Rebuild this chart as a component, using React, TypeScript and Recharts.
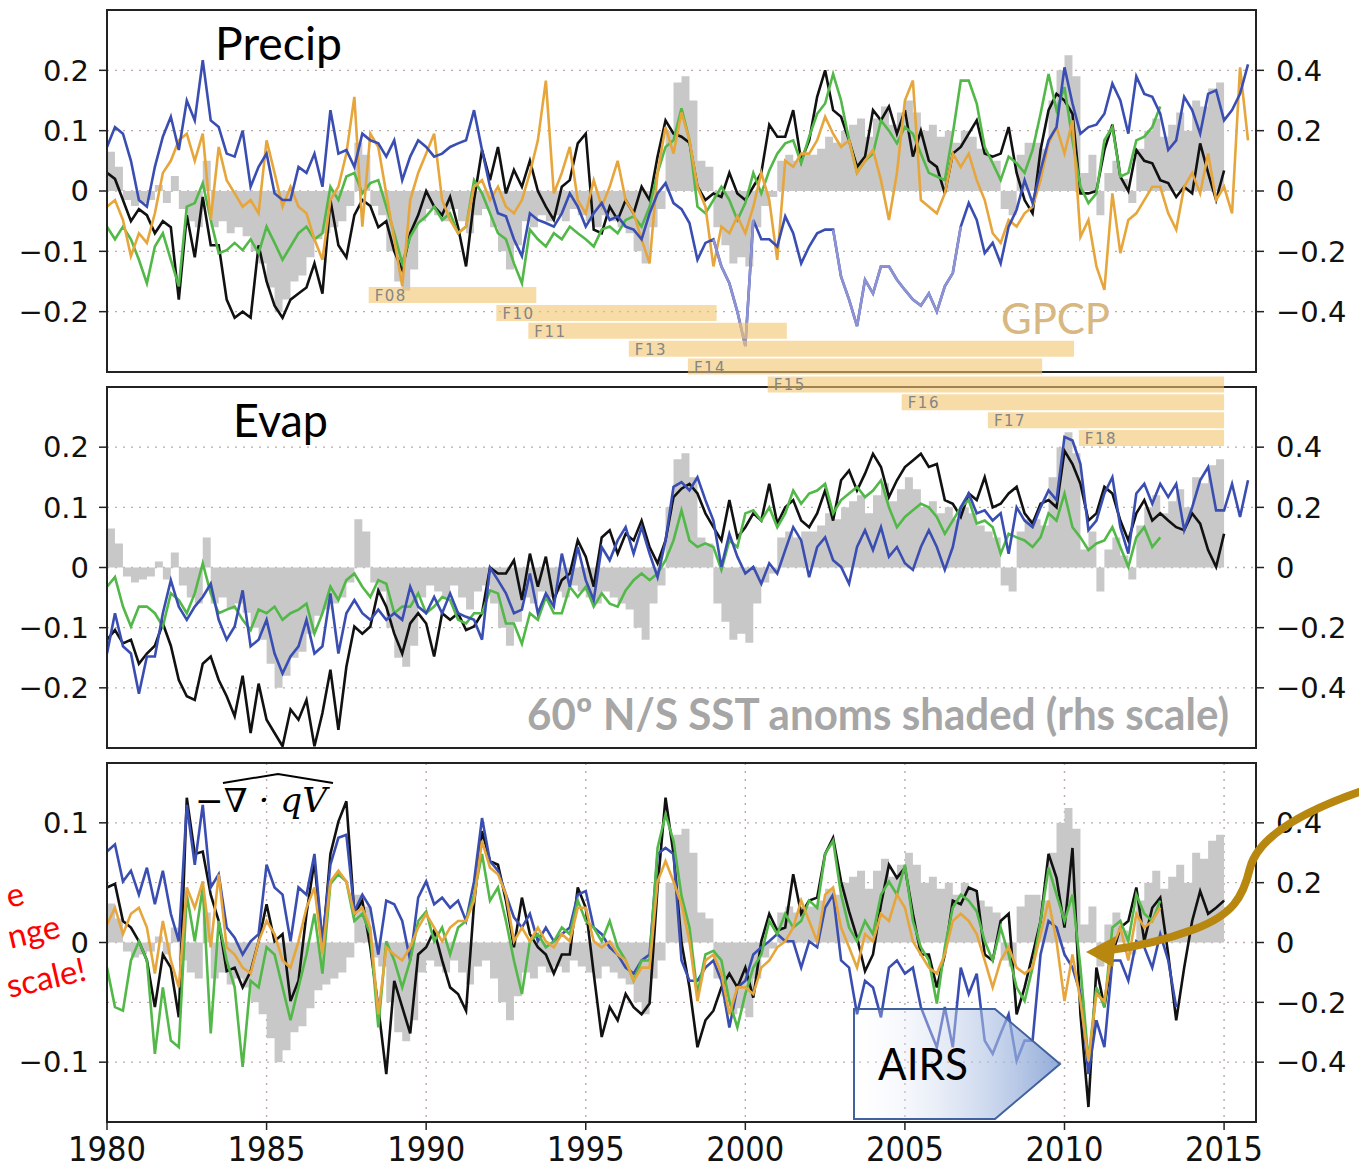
import React from 'react';
import {
  ComposedChart, Line, Area, XAxis, YAxis, CartesianGrid,
  BarChart, Bar, LabelList,
} from 'recharts';

// ---------------- time axis / ticks ----------------
const YEAR_START = 1980;
const QUARTERS = 144; // quarterly samples 1980.00 .. 2015.75
const X_TICKS = [1980, 1985, 1990, 1995, 2000, 2005, 2010, 2015];
const LEFT_TICKS_PE = [-0.2, -0.1, 0, 0.1, 0.2];
const LEFT_TICKS_DIV = [-0.1, 0, 0.1];
const RIGHT_TICKS = [-0.4, -0.2, 0, 0.2, 0.4];

// ---------------- Precip panel (left scale) ----------------
const PRECIP_BLACK = [
  0.03, 0.02, -0.015, -0.05, -0.03, -0.04, -0.07, -0.05, -0.06, -0.18, -0.04, -0.11,
  -0.01, -0.09, -0.09, -0.18, -0.21, -0.2, -0.21, -0.09, -0.15, -0.19, -0.21, -0.18,
  -0.17, -0.16, -0.12, -0.17, -0.015, -0.09, -0.11, -0.04, -0.015, -0.025, -0.06, -0.05,
  -0.1, -0.13, -0.07, -0.04, 0.0, -0.026, -0.04, -0.01, -0.06, -0.125, -0.015, 0.068,
  0.018, 0.073, -0.004, 0.035, 0.007, 0.05, 0.0, -0.026, -0.048, 0.007, 0.018, 0.079,
  0.095, -0.064, -0.07, -0.026, -0.048, -0.015, -0.037, 0.007, -0.015, 0.057, 0.117, 0.095,
  0.09, 0.08, 0.007, -0.015, -0.004, -0.01, 0.03, -0.004, -0.015, 0.007, 0.03, 0.11,
  0.09, 0.09, 0.134, 0.05, 0.084, 0.156, 0.2, 0.134, 0.123, 0.084, 0.04, 0.057,
  0.134, 0.117, 0.14, 0.095, 0.134, 0.057, 0.1, 0.05, 0.04, -0.004, 0.062, 0.073,
  0.095, 0.117, 0.062, 0.057, 0.062, 0.106, 0.03, -0.015, -0.037, 0.068, 0.134, 0.161,
  0.15, 0.128, -0.004, -0.004, 0.0, 0.068, 0.11, 0.024, 0.0, 0.068, 0.05, 0.046,
  0.018, 0.013, -0.01, 0.007, -0.004, 0.079, 0.03, -0.015, 0.034,
];
const PRECIP_BLUE = [
  0.073, 0.106, 0.095, 0.05, -0.015, -0.026, 0.04, 0.09, 0.123, 0.068, 0.15, 0.117,
  0.217, 0.117, 0.106, 0.062, 0.057, 0.1, 0.007, 0.04, 0.062, -0.004, -0.015, -0.015,
  0.04, 0.03, 0.062, 0.007, 0.134, 0.062, 0.068, 0.04, 0.095, 0.084, 0.079, 0.057,
  0.084, 0.018, 0.057, 0.084, 0.073, 0.057, 0.062, 0.073, 0.079, 0.084, 0.134, 0.068,
  0.007, -0.037, -0.042, -0.08, -0.108, -0.037, -0.048, -0.053, -0.059, -0.037, -0.004, -0.026,
  -0.059, -0.037, -0.02, -0.048, -0.042, -0.059, -0.064, -0.08, -0.037, -0.004, 0.013, -0.02,
  -0.03, -0.053, -0.114, -0.086, -0.08, -0.125, -0.153, -0.2, -0.257, -0.048, -0.08, -0.08,
  -0.092, -0.042, -0.07, -0.12, -0.092, -0.07, -0.064, -0.064, -0.142, -0.18, -0.224, -0.147,
  -0.17, -0.125, -0.125, -0.147, -0.164, -0.18, -0.19, -0.17, -0.2, -0.158, -0.136, -0.059,
  -0.02, -0.048, -0.103, -0.086, -0.12, -0.059, -0.031, 0.018, -0.02, 0.034, 0.084, 0.106,
  0.205, 0.145, 0.095, 0.106, 0.11, 0.128, 0.178, 0.15, 0.095, 0.19, 0.161, 0.156,
  0.128, 0.068, 0.084, 0.156, 0.134, 0.095, 0.161, 0.167, 0.117, 0.134, 0.161, 0.21,
];
// periods drawn in the paler blue
const PRECIP_BLUE_PALE_RANGES = [[1999.0, 2000.25], [2002.75, 2006.75]];
const PRECIP_GREEN = [
  -0.059, -0.08, -0.059, -0.08, -0.114, -0.153, -0.092, -0.07, -0.114, -0.158, -0.026, -0.02,
  0.013, -0.048, -0.103, -0.098, -0.086, -0.098, -0.08, -0.103, -0.059, -0.086, -0.114, -0.092,
  -0.07, -0.059, -0.08, -0.07, 0.007, -0.015, 0.024, 0.03, -0.004, 0.013, 0.018, -0.026,
  -0.07, -0.12, -0.076, -0.053, -0.042, -0.026, -0.048, -0.037, -0.07, -0.059, 0.018, -0.004,
  -0.037, -0.07, -0.08, -0.12, -0.153, -0.064, -0.08, -0.092, -0.07, -0.08, -0.059, -0.07,
  -0.08, -0.092, -0.064, -0.059, -0.07, -0.048, -0.042, -0.059, -0.026, 0.03, 0.073, 0.084,
  0.137, 0.084, -0.026, -0.037, -0.015, 0.007, -0.015, -0.048, -0.02, 0.03, -0.004, 0.034,
  0.062, 0.079, 0.084, 0.046, 0.09, 0.128, 0.145, 0.194, 0.15, 0.084, 0.03, 0.05,
  0.062, 0.117, 0.1, 0.079, 0.106, 0.095, 0.062, 0.03, 0.024, 0.018, 0.095, 0.183,
  0.183, 0.145, 0.073, 0.046, 0.018, 0.057, 0.046, 0.03, 0.068, 0.128, 0.194, 0.134,
  0.172, 0.084, 0.007, -0.02, -0.004, 0.084, 0.106, 0.024, 0.03, 0.084, 0.09, 0.106,
  0.14,
];
const PRECIP_GPCP = [
  -0.026, -0.015, -0.048, -0.108, -0.07, -0.086, -0.037, 0.03, 0.05, 0.084, 0.095, 0.05,
  0.095, -0.048, 0.073, 0.018, -0.004, -0.026, -0.015, -0.037, 0.084, 0.03, -0.026, 0.007,
  -0.026, -0.037, -0.08, -0.114, -0.015, 0.007, 0.062, 0.156, -0.059, 0.095, 0.073, -0.004,
  -0.08, -0.158, -0.015, 0.03, 0.062, 0.095, -0.015, -0.048, -0.07, -0.059, 0.007, 0.018,
  -0.015, 0.007, -0.026, -0.037, -0.015, 0.03, 0.084, 0.183, -0.004, 0.03, 0.073, -0.015,
  -0.037, 0.018, -0.026, 0.007, 0.05, -0.015, -0.037, -0.08, -0.12, 0.03, 0.106, 0.062,
  0.13, 0.084, 0.007, -0.026, -0.125, -0.059, -0.07, -0.042, -0.07, -0.026, 0.03, -0.015,
  -0.114, 0.05, 0.04, 0.062, 0.062, 0.084, 0.123, 0.095, 0.073, 0.084, 0.03, 0.05,
  0.068, 0.018, -0.048, 0.03, 0.15, 0.183, -0.015, -0.026, -0.037, -0.004, 0.062, 0.04,
  0.062, 0.018, -0.015, -0.07, -0.086, -0.048, -0.059, -0.037, -0.026, 0.018, 0.079, 0.106,
  0.062, 0.117, -0.076, -0.048, -0.125, -0.164, -0.004, -0.103, -0.048, -0.037, -0.015, 0.007,
  0.007, -0.037, -0.064, 0.007, 0.03, -0.004, 0.062, -0.015, 0.007, -0.037, 0.205, 0.084,
];

// ---------------- Evap panel (left scale) ----------------
const EVAP_BLACK = [
  -0.12, -0.104, -0.126, -0.12, -0.16, -0.143, -0.13, -0.093, -0.13, -0.187, -0.214, -0.22,
  -0.16, -0.148, -0.187, -0.214, -0.247, -0.18, -0.275, -0.193, -0.253, -0.275, -0.297, -0.236,
  -0.253, -0.22, -0.297, -0.242, -0.17, -0.27, -0.165, -0.098, -0.11, -0.098, -0.038, -0.065,
  -0.11, -0.143, -0.093, -0.076, -0.093, -0.148, -0.076, -0.087, -0.076, -0.104, -0.098, -0.076,
  0.0, -0.01, -0.01, 0.012, -0.054, 0.023, -0.032, 0.018, -0.054, -0.021, -0.01, 0.045,
  0.018, -0.032, 0.05, 0.062, 0.023, 0.056, 0.045, 0.078, 0.034, 0.007, 0.045, 0.117,
  0.131, 0.139, 0.123, 0.09, 0.067, 0.045, 0.112, 0.05, 0.067, 0.09, 0.078, 0.139,
  0.073, 0.1, 0.112, 0.078, 0.067, 0.09, 0.128, 0.078, 0.145, 0.161, 0.128, 0.156,
  0.189, 0.167, 0.117, 0.145, 0.167, 0.178, 0.189, 0.167, 0.172, 0.112, 0.106, 0.084,
  0.123, 0.112, 0.15, 0.1, 0.106, 0.123, 0.134, 0.09, 0.073, 0.106, 0.112, 0.1,
  0.194, 0.172, 0.139, 0.078, 0.09, 0.134, 0.123, 0.078, 0.045, 0.09, 0.112, 0.078,
  0.09, 0.078, 0.067, 0.062, 0.09, 0.073, 0.029, 0.001, 0.056,
];
const EVAP_BLUE = [
  -0.143, -0.076, -0.131, -0.143, -0.21, -0.148, -0.148, -0.076, -0.021, -0.065, -0.087, -0.065,
  -0.049, -0.027, -0.087, -0.12, -0.098, -0.038, -0.131, -0.12, -0.087, -0.143, -0.176, -0.148,
  -0.131, -0.087, -0.143, -0.131, -0.043, -0.143, -0.076, -0.054, -0.076, -0.087, -0.07, -0.087,
  -0.076, -0.087, -0.032, -0.065, -0.076, -0.049, -0.076, -0.043, -0.076, -0.082, -0.087, -0.12,
  0.0, -0.021, -0.043, -0.076, -0.07, -0.01, -0.076, -0.043, -0.065, 0.023, -0.032, 0.034,
  -0.021, -0.054, 0.034, 0.012, 0.045, 0.067, 0.023, 0.067, 0.023, -0.016, 0.045, 0.134,
  0.142, 0.128, 0.15, 0.112, 0.078, 0.001, 0.056, 0.018, -0.01, 0.001, -0.027, 0.007,
  -0.01, 0.029, 0.067, 0.045, -0.016, 0.034, 0.05, 0.012, 0.001, -0.027, 0.034, 0.062,
  0.029, 0.067, 0.018, 0.034, 0.007, -0.004, 0.034, 0.062, 0.034, -0.004, 0.034, 0.1,
  0.123, 0.09, 0.095, 0.078, 0.09, 0.023, 0.1, 0.078, 0.067, 0.1, 0.128, 0.112,
  0.217, 0.211, 0.172, 0.062, 0.078, 0.123, 0.15, 0.067, 0.023, 0.123, 0.139, 0.106,
  0.139, 0.117, 0.139, 0.062, 0.1, 0.145, 0.167, 0.095, 0.095, 0.139, 0.084, 0.145,
];
const EVAP_GREEN = [
  -0.032, -0.016, -0.065, -0.098, -0.065, -0.065, -0.076, -0.098, -0.043, -0.054, -0.076, -0.043,
  0.007, -0.043, -0.076, -0.07, -0.065, -0.087, -0.104, -0.07, -0.076, -0.065, -0.087, -0.076,
  -0.07, -0.06, -0.11, -0.076, -0.032, -0.054, -0.021, -0.01, -0.032, -0.049, -0.021, -0.027,
  -0.076, -0.065, -0.065, -0.043, -0.076, -0.065, -0.049, -0.054, -0.087, -0.093, -0.076, -0.076,
  -0.038, -0.043, -0.093, -0.093, -0.127, -0.076, -0.087, -0.049, -0.076, -0.076, -0.032, -0.049,
  -0.032, -0.065, -0.043, -0.06, -0.065, -0.038, -0.021, -0.01, -0.021, -0.01, 0.012, 0.045,
  0.095, 0.045, 0.034, 0.04, 0.034, -0.004, 0.045, 0.034, 0.09, 0.095, 0.078, 0.1,
  0.067, 0.09, 0.128, 0.106, 0.123, 0.128, 0.139, 0.09, 0.112, 0.123, 0.134, 0.117,
  0.128, 0.145, 0.1, 0.067, 0.084, 0.095, 0.106, 0.1, 0.084, 0.056, 0.078, 0.1,
  0.112, 0.073, 0.078, 0.067, 0.023, 0.056, 0.05, 0.045, 0.034, 0.05, 0.09, 0.078,
  0.123, 0.067, 0.05, 0.029, 0.04, 0.045, 0.067, 0.034, 0.001, 0.05, 0.067, 0.034,
  0.05,
];

// ---------------- moisture convergence panel (left scale) ----------------
const DIV_BLACK = [
  0.046, 0.049, 0.018, 0.0125, 0.001, -0.015, -0.054, -0.01, -0.021, -0.0625, 0.121, 0.074,
  0.076, 0.04, 0.018, -0.024, -0.021, -0.0375, -0.024, 0.001, 0.032, 0.001, 0.007, -0.049,
  -0.032, 0.024, 0.068, -0.004, 0.074, 0.101, 0.118, 0.024, 0.035, -0.004, -0.054, -0.11,
  -0.032, -0.054, -0.076, -0.01, -0.004, 0.01, -0.015, -0.0375, -0.043, -0.057, 0.032, 0.093,
  0.068, 0.065, 0.035, -0.004, 0.0375, 0.007, -0.004, -0.01, -0.026, -0.01, -0.01, 0.046,
  0.029, -0.026, -0.079, -0.054, -0.065, -0.043, -0.054, -0.06, -0.051, 0.046, 0.121, 0.074,
  0.0, -0.0375, -0.0875, -0.065, -0.057, -0.0375, -0.026, -0.0375, -0.021, -0.046, 0.001, 0.024,
  0.01, 0.0125, 0.057, 0.024, 0.035, 0.0375, 0.074, 0.0875, 0.051, 0.026, 0.004, -0.024,
  -0.01, 0.032, 0.065, 0.054, 0.0625, 0.024, -0.01, -0.01, -0.0375, -0.01, 0.035, 0.032,
  0.046, 0.043, -0.01, -0.015, 0.018, 0.024, -0.06, -0.0375, -0.01, 0.018, 0.074, 0.054,
  0.0125, 0.079, -0.06, -0.1375, -0.021, -0.054, -0.01, 0.0125, 0.018, 0.046, 0.001, 0.029,
  0.0375, -0.01, -0.065, -0.021, 0.018, 0.043, 0.024, 0.029, 0.035,
];
const DIV_BLUE = [
  0.076, 0.082, 0.051, 0.06, 0.04, 0.0625, 0.032, 0.06, 0.024, 0.001, 0.115, 0.065,
  0.115, 0.046, 0.057, 0.0125, 0.004, -0.01, 0.001, 0.007, 0.065, 0.046, 0.04, 0.001,
  0.046, 0.04, 0.074, 0.001, 0.065, 0.0875, 0.09, 0.026, 0.04, 0.029, -0.01, 0.035,
  0.032, 0.018, -0.015, 0.0375, 0.051, 0.032, 0.0375, 0.029, 0.035, 0.018, 0.051, 0.104,
  0.068, 0.06, 0.04, 0.021, 0.0125, 0.024, 0.001, 0.0125, 0.001, 0.007, 0.0125, 0.04,
  0.043, 0.0125, 0.007, -0.004, -0.01, -0.021, -0.026, -0.015, -0.01, 0.074, 0.079, 0.074,
  -0.015, -0.032, -0.032, -0.021, -0.015, -0.032, -0.071, -0.0375, -0.032, -0.01, -0.004, 0.001,
  0.007, 0.001, 0.001, -0.021, 0.001, -0.004, 0.029, 0.04, -0.015, -0.021, -0.06, -0.032,
  -0.0375, -0.0625, -0.021, -0.015, -0.026, -0.021, -0.054, -0.071, -0.0875, -0.054, -0.0875, -0.021,
  -0.043, -0.026, -0.082, -0.093, -0.076, -0.06, -0.099, -0.082, -0.082, -0.01, 0.018, 0.0125,
  -0.01, -0.021, -0.043, -0.11, -0.065, -0.0875, -0.015, -0.015, -0.032, 0.001, -0.004, -0.021,
  0.007, -0.015, -0.054,
];
const DIV_GREEN = [
  -0.021, -0.054, -0.057, -0.015, 0.001, -0.015, -0.093, -0.0375, -0.082, -0.0875, 0.04, 0.001,
  0.046, -0.076, 0.018, -0.015, -0.0375, -0.104, -0.032, -0.0375, -0.004, -0.01, -0.0375, -0.065,
  -0.0375, -0.01, 0.024, -0.026, 0.049, 0.057, 0.051, 0.018, 0.024, 0.007, -0.071, 0.001,
  -0.015, -0.0375, -0.015, 0.018, 0.026, 0.001, 0.0125, -0.01, 0.0125, 0.018, 0.04, 0.074,
  0.035, 0.046, 0.018, -0.015, -0.043, 0.001, 0.007, -0.004, 0.001, 0.0125, 0.007, 0.035,
  0.018, 0.0125, 0.001, 0.018, -0.004, -0.015, -0.032, -0.015, -0.015, 0.079, 0.107, 0.085,
  0.039, 0.0125, -0.043, -0.01, -0.007, -0.015, -0.049, -0.071, -0.043, -0.021, -0.01, 0.018,
  0.007, 0.024, 0.0125, 0.018, 0.035, 0.029, 0.074, 0.085, 0.04, 0.0125, 0.001, 0.018,
  0.007, 0.04, 0.051, 0.04, 0.065, 0.018, -0.004, -0.015, -0.051, -0.004, 0.029, 0.04,
  0.035, 0.026, 0.001, -0.015, 0.0125, -0.01, -0.0375, -0.049, -0.021, 0.018, 0.0625, 0.04,
  0.018, 0.04, -0.021, -0.099, -0.0375, -0.054, 0.0125, 0.018, 0.001, 0.04, 0.024, 0.018,
  0.035,
];
const DIV_ORANGE = [
  0.015, 0.029, 0.007, 0.024, 0.029, 0.0125, -0.026, 0.018, -0.015, -0.0375, 0.046, 0.029,
  0.051, -0.004, 0.057, -0.004, -0.01, -0.021, -0.026, 0.001, 0.018, 0.007, -0.015, -0.021,
  0.001, 0.029, 0.046, -0.01, 0.051, 0.06, 0.051, 0.024, 0.029, 0.0125, -0.06, -0.004,
  -0.01, -0.015, -0.004, 0.0125, 0.024, 0.0125, 0.001, 0.0125, 0.018, 0.018, 0.035, 0.085,
  0.0625, 0.057, 0.04, 0.001, 0.0125, 0.001, 0.0125, 0.001, -0.004, 0.007, 0.001, 0.029,
  0.029, 0.001, -0.004, 0.001, -0.01, -0.015, -0.032, -0.021, -0.021, 0.051, 0.068, 0.051,
  0.032, 0.001, -0.049, -0.015, -0.01, -0.026, -0.06, -0.0375, -0.0375, -0.043, -0.021, -0.015,
  -0.004, 0.001, 0.0125, 0.035, 0.018, 0.001, 0.04, 0.046, 0.0125, -0.004, -0.021, 0.007,
  0.001, 0.024, 0.018, 0.04, 0.029, 0.001, -0.01, -0.021, -0.026, -0.01, 0.018, 0.024,
  0.018, 0.007, -0.015, -0.0375, -0.015, -0.004, -0.021, -0.026, -0.021, 0.007, 0.035, 0.001,
  -0.049, -0.01, -0.049, -0.099, -0.043, -0.049, -0.004, 0.0125, -0.015, 0.024, 0.0125, 0.018,
  0.029,
];

// ---------------- 60N/S SST anomalies (right-hand scale, shaded) ----------------
const SST_ANOM = [
  0.13, 0.08, -0.03, -0.05, -0.04, -0.03, 0.02, -0.04, 0.05, -0.06, -0.1, -0.12,
  0.1, -0.12, -0.1, -0.14, -0.12, -0.15, -0.2, -0.24, -0.32, -0.4, -0.36, -0.3,
  -0.28, -0.22, -0.16, -0.14, -0.12, -0.1, -0.05, 0.16, 0.12, -0.05, -0.08, -0.2,
  -0.3, -0.33, -0.26, -0.1, -0.06, -0.08, -0.1, -0.06, -0.1, -0.14, -0.08, -0.06,
  -0.12, -0.2, -0.26, -0.18, -0.1, -0.12, -0.08, -0.1, -0.08, -0.1, -0.06, -0.08,
  -0.1, -0.12, -0.08, -0.1, -0.12, -0.14, -0.2, -0.24, -0.12, -0.06, 0.2, 0.36,
  0.38, 0.3, 0.1, 0.08, -0.12, -0.18, -0.24, -0.22, -0.25, -0.12, -0.05, -0.02,
  0.1, 0.12, 0.1, 0.12, 0.12, 0.14, 0.18, 0.16, 0.2, 0.22, 0.24, 0.18,
  0.24, 0.28, 0.22, 0.26, 0.3, 0.26, 0.2, 0.22, 0.18, 0.2, 0.16, 0.2,
  0.18, 0.14, 0.12, 0.1, -0.06, -0.08, 0.12, 0.16, 0.16, 0.14, 0.3, 0.4,
  0.45, 0.38, 0.06, 0.12, -0.08, 0.06, 0.1, 0.04, -0.04, 0.14, 0.2, 0.24,
  0.18, 0.22, 0.26, 0.2, 0.3, 0.28, 0.34, 0.36, 0.3,
];

// ---------------- SSM/I satellite records ----------------
const SAT_NAMES = ['F08', 'F10', 'F11', 'F13', 'F14', 'F15', 'F16', 'F17', 'F18'];
const SAT_START = [1988.2, 1992.2, 1993.2, 1996.35, 1998.2, 2000.7, 2004.9, 2007.6, 2010.45];
const SAT_END = [1993.45, 1999.1, 2001.3, 2010.3, 2009.3, 2015.0, 2015.0, 2015.0, 2015.0];

// ---------------- helpers ----------------
const COLORS = {
  black: '#111111',
  blue: '#3a4eb2',
  bluePale: '#8d92d2',
  green: '#52b848',
  orange: '#e6a63c',
  sst: '#c8c8c8',
  grid: '#bcaaaa',
};

const fmt = (v: number) => (v === 0 ? '0' : (v < 0 ? '\u2212' : '') + String(Math.abs(v)));

function buildRows(series: Record<string, (number | null)[]>) {
  return Array.from({ length: QUARTERS }, (_, i) => {
    const row: Record<string, number | null> = { t: YEAR_START + i / 4 };
    Object.keys(series).forEach((k) => {
      const v = series[k][i];
      row[k] = v === undefined ? null : v;
    });
    return row;
  });
}

const inPale = (t: number) => PRECIP_BLUE_PALE_RANGES.some(([a, b]) => t >= a - 1e-9 && t <= b + 1e-9);

const precipRows = buildRows({
  black: PRECIP_BLACK, blue: PRECIP_BLUE, green: PRECIP_GREEN, orange: PRECIP_GPCP, sst: SST_ANOM,
}).map((r) => ({ ...r, bluePale: inPale(r.t as number) ? r.blue : null }));
const evapRows = buildRows({ black: EVAP_BLACK, blue: EVAP_BLUE, green: EVAP_GREEN, sst: SST_ANOM });
const divRows = buildRows({ black: DIV_BLACK, blue: DIV_BLUE, green: DIV_GREEN, orange: DIV_ORANGE, sst: SST_ANOM });

const satRows = SAT_NAMES.map((name, i) => ({ name, span: [SAT_START[i], SAT_END[i]] }));

const TICK_FONT = { fontFamily: 'DejaVu Sans', fontSize: 29, fill: '#111' };

const XTick = (props: any) => {
  const { x, y, payload } = props;
  return (
    <text x={x} y={y + 29} textAnchor="middle" fontFamily="DejaVu Sans" fontSize={34}
      textLength={78} lengthAdjust="spacingAndGlyphs" fill="#111">
      {payload.value}
    </text>
  );
};

type LineSpec = { key: string; color: string };

function Panel(props: {
  top: number; height: number; plotHeight: number; rows: any[]; lines: LineSpec[];
  leftDomain: [number, number]; leftTicks: number[]; showXLabels: boolean;
}) {
  const { top, height, plotHeight, rows, lines, leftDomain, leftTicks, showXLabels } = props;
  const marginTop = 10;
  const xAxisH = height - marginTop - plotHeight;
  return (
    <div style={{ position: 'absolute', left: 0, top }}>
      <ComposedChart width={1359} height={height} data={rows}
        margin={{ top: marginTop, right: 3, bottom: 0, left: 7 }}>
        <CartesianGrid yAxisId="right" stroke={COLORS.grid} strokeDasharray="2 6" strokeWidth={1.4} />
        <XAxis dataKey="t" type="number" domain={[1980, 2016]} ticks={X_TICKS} interval={0}
          allowDataOverflow height={xAxisH} axisLine={false} tickSize={8} tickMargin={2}
          tickLine={{ stroke: '#222', strokeWidth: 1.5 }}
          tick={showXLabels ? XTick : false} />
        <YAxis yAxisId="left" domain={leftDomain} ticks={leftTicks} interval={0} allowDataOverflow
          width={100} axisLine={false} tickSize={8} tickMargin={10}
          tickLine={{ stroke: '#222', strokeWidth: 1.5 }} tick={TICK_FONT} tickFormatter={fmt} />
        <YAxis yAxisId="right" orientation="right" domain={[-0.6, 0.6]} ticks={RIGHT_TICKS} interval={0}
          allowDataOverflow width={100} axisLine={false} tickSize={8} tickMargin={12}
          tickLine={{ stroke: '#222', strokeWidth: 1.5 }} tick={TICK_FONT} tickFormatter={fmt} />
        <Area yAxisId="right" dataKey="sst" type="stepAfter" baseValue={0} fill={COLORS.sst}
          fillOpacity={1} stroke="none" isAnimationActive={false} dot={false} activeDot={false} />
        {lines.map((l) => (
          <Line key={l.key} yAxisId="left" dataKey={l.key} type="linear" stroke={l.color}
            strokeWidth={2.6} dot={false} activeDot={false} isAnimationActive={false}
            connectNulls={false} />
        ))}
      </ComposedChart>
    </div>
  );
}

const Frame = ({ top, height }: { top: number; height: number }) => (
  <div style={{
    position: 'absolute', left: 106, top, width: 1151, height, boxSizing: 'border-box',
    border: '2px solid #222', pointerEvents: 'none',
  }} />
);

export default function App() {
  return (
    <div style={{ position: 'absolute', left: 0, top: 0, width: 1359, height: 1170, background: '#fff', overflow: 'hidden' }}>
      <Panel top={0} height={382} plotHeight={362} rows={precipRows}
        lines={[
          { key: 'black', color: COLORS.black },
          { key: 'green', color: COLORS.green },
          { key: 'orange', color: COLORS.orange },
          { key: 'blue', color: COLORS.blue },
          { key: 'bluePale', color: COLORS.bluePale },
        ]}
        leftDomain={[-0.3, 0.3]} leftTicks={LEFT_TICKS_PE} showXLabels={false} />
      <Panel top={377} height={381} plotHeight={361} rows={evapRows}
        lines={[
          { key: 'black', color: COLORS.black },
          { key: 'green', color: COLORS.green },
          { key: 'blue', color: COLORS.blue },
        ]}
        leftDomain={[-0.3, 0.3]} leftTicks={LEFT_TICKS_PE} showXLabels={false} />
      <Panel top={753} height={417} plotHeight={359} rows={divRows}
        lines={[
          { key: 'black', color: COLORS.black },
          { key: 'blue', color: COLORS.blue },
          { key: 'green', color: COLORS.green },
          { key: 'orange', color: COLORS.orange },
        ]}
        leftDomain={[-0.15, 0.15]} leftTicks={LEFT_TICKS_DIV} showXLabels={true} />

      <Frame top={9} height={364} />
      <Frame top={386} height={363} />
      <Frame top={762} height={361} />

      {/* SSM/I satellite coverage bars */}
      <div style={{ position: 'absolute', left: 0, top: 286 }}>
        <BarChart width={1359} height={161} data={satRows} layout="vertical"
          margin={{ top: 0, right: 103, bottom: 0, left: 107 }} barCategoryGap={1}>
          <XAxis type="number" domain={[1980, 2016]} hide allowDataOverflow />
          <YAxis type="category" dataKey="name" hide />
          <Bar dataKey="span" fill="#f2c46e" fillOpacity={0.6} isAnimationActive={false}>
            <LabelList dataKey="name" content={(p: any) => (
              <text x={Number(p.x) + 6} y={Number(p.y) + Number(p.height) / 2 + 6}
                fill="#858585" fontFamily="DejaVu Sans" fontSize={15} letterSpacing={1.5}>
                {p.value}
              </text>
            )} />
          </Bar>
        </BarChart>
      </div>

      {/* annotations */}
      <svg width={1359} height={1170} style={{ position: 'absolute', left: 0, top: 0, pointerEvents: 'none' }}>
        <defs>
          <linearGradient id="airsGrad" x1="0" x2="1" y1="0" y2="0">
            <stop offset="0" stopColor="#ffffff" stopOpacity={0.15} />
            <stop offset="1" stopColor="#7f9dd3" stopOpacity={0.85} />
          </linearGradient>
        </defs>
        <text x={215} y={60} fontFamily="Lato" fontSize={46} fill="#000" textLength={127} lengthAdjust="spacingAndGlyphs">Precip</text>
        <text x={233} y={437} fontFamily="Lato" fontSize={46} fill="#000" textLength={95} lengthAdjust="spacingAndGlyphs">Evap</text>
        <text x={1001} y={334} fontFamily="Lato" fontSize={43} fill="#d7b882" textLength={109} lengthAdjust="spacingAndGlyphs">GPCP</text>
        <text x={527} y={730} fontFamily="Lato" fontWeight="bold" fontSize={44} fill="#a6a6a6" textLength={702} lengthAdjust="spacingAndGlyphs">60º N/S SST anoms shaded (rhs scale)</text>

        <text x={195} y={812} fontFamily="DejaVu Serif" fontStyle="italic" fontSize={33} fill="#000" textLength={132} lengthAdjust="spacingAndGlyphs">{'\u2212\u2207 \u00b7 qV'}</text>
        <path d="M 223 783 L 278 774 L 333 783" stroke="#000" strokeWidth={2} fill="none" />

        <g fill="#ff0000" fontFamily="Lato" fontSize={33}>
          <text x={26} y={904} textAnchor="end" transform="rotate(-13 26 904)">e</text>
          <text x={62} y={937} textAnchor="end" transform="rotate(-13 62 937)">nge</text>
          <text x={88} y={980} textAnchor="end" transform="rotate(-13 88 980)">scale!</text>
        </g>

        <polygon points="854,1009 995,1009 1060,1064 995,1119 854,1119" fill="url(#airsGrad)" stroke="#41619f" strokeWidth={2} />
        <text x={878} y={1080} fontFamily="Lato" fontSize={45} fill="#000" textLength={90} lengthAdjust="spacingAndGlyphs">AIRS</text>

        <path d="M 1365 790 C 1300 812, 1258 838, 1250 868 C 1243 898, 1232 915, 1195 929 C 1165 940, 1135 947, 1110 950"
          stroke="#b8870f" strokeWidth={8} fill="none" />
        <polygon points="1086,952 1116,936 1113,967" fill="#b8870f" />
      </svg>
    </div>
  );
}
